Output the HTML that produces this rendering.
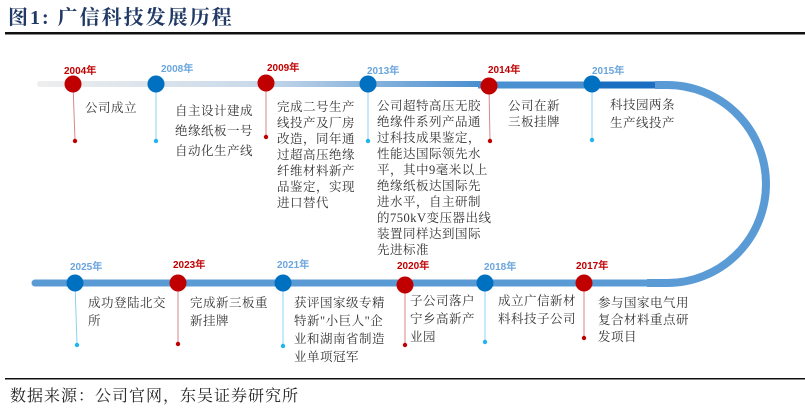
<!DOCTYPE html>
<html><head><meta charset="utf-8"><style>
html,body{margin:0;padding:0;background:#fff;}
body{width:805px;height:412px;overflow:hidden;position:relative;font-family:"Liberation Serif","Noto Serif CJK SC",serif;}
svg{position:absolute;left:0;top:0;}
</style></head><body>
<svg width="805" height="412" viewBox="0 0 805 412" xmlns="http://www.w3.org/2000/svg">
<defs>
<linearGradient id="g1" gradientUnits="userSpaceOnUse" x1="40" y1="0" x2="480" y2="0">
<stop offset="0" stop-color="#eeeeee"/><stop offset="0.5" stop-color="#c9d9ea"/><stop offset="1" stop-color="#4a8fd0"/>
</linearGradient>
</defs>
<text x="8" y="24" font-size="20" font-weight="bold" fill="#1f3864" letter-spacing="2" font-family="'Liberation Serif','Noto Serif CJK SC',serif">图1:  广信科技发展历程</text>
<rect x="5" y="32" width="800" height="2.5" fill="#111"/>
<!-- top track -->
<line x1="40" y1="84" x2="480" y2="84" stroke="url(#g1)" stroke-width="6" stroke-linecap="round"/>
<line x1="478" y1="85" x2="660" y2="85" stroke="#4a8fd0" stroke-width="7"/>
<line x1="590" y1="85" x2="660" y2="85" stroke="#1c6fc0" stroke-width="7"/>
<path d="M655 85 L667 85 A99 99 0 0 1 667 283 L647 283" fill="none" stroke="#5b9bd5" stroke-width="8"/>
<line x1="35" y1="283" x2="650" y2="283" stroke="#5b9bd5" stroke-width="7" stroke-linecap="round"/>
<g font-family="'Liberation Sans',sans-serif" font-size="10" font-weight="bold">
<line x1="73" y1="84" x2="75" y2="141" stroke="#d9878a" stroke-width="1"/><circle cx="75" cy="141" r="2.2" fill="#c00000"/>
<circle cx="73" cy="84" r="8.5" fill="#c00000"/><text x="64" y="74" fill="#c00000">2004年</text>
<line x1="156" y1="84" x2="156" y2="141" stroke="#8fd0f0" stroke-width="1"/><circle cx="156" cy="141" r="2.2" fill="#1fb4ee"/>
<circle cx="156" cy="84" r="8.5" fill="#0070c0"/><text x="161" y="72" fill="#6aa5dc">2008年</text>
<line x1="266" y1="83" x2="266" y2="137" stroke="#d9878a" stroke-width="1"/><circle cx="266" cy="137" r="2.2" fill="#c00000"/>
<circle cx="266" cy="83" r="8.5" fill="#c00000"/><text x="267" y="71" fill="#c00000">2009年</text>
<line x1="368" y1="84" x2="368" y2="141" stroke="#8fd0f0" stroke-width="1"/><circle cx="368" cy="141" r="2.2" fill="#1fb4ee"/>
<circle cx="368" cy="84" r="8.5" fill="#0070c0"/><text x="367" y="74" fill="#6aa5dc">2013年</text>
<line x1="489" y1="86" x2="490" y2="141" stroke="#d9878a" stroke-width="1"/><circle cx="490" cy="141" r="2.2" fill="#c00000"/>
<circle cx="489" cy="86" r="8.5" fill="#c00000"/><text x="488" y="73" fill="#c00000">2014年</text>
<line x1="592" y1="84" x2="592" y2="140" stroke="#8fd0f0" stroke-width="1"/><circle cx="592" cy="140" r="2.2" fill="#1fb4ee"/>
<circle cx="592" cy="84" r="8.5" fill="#0070c0"/><text x="592" y="74" fill="#6aa5dc">2015年</text>
<line x1="75" y1="283" x2="77" y2="345" stroke="#8fd0f0" stroke-width="1"/><circle cx="77" cy="345" r="2.2" fill="#1fb4ee"/>
<circle cx="75" cy="283" r="8.5" fill="#0070c0"/><text x="70" y="270" fill="#6aa5dc">2025年</text>
<line x1="178" y1="283" x2="178" y2="344" stroke="#d9878a" stroke-width="1"/><circle cx="178" cy="344" r="2.2" fill="#c00000"/>
<circle cx="178" cy="283" r="8.5" fill="#c00000"/><text x="173" y="268" fill="#c00000">2023年</text>
<line x1="283" y1="283" x2="283" y2="346" stroke="#8fd0f0" stroke-width="1"/><circle cx="283" cy="346" r="2.2" fill="#1fb4ee"/>
<circle cx="283" cy="283" r="8.5" fill="#0070c0"/><text x="277" y="268" fill="#6aa5dc">2021年</text>
<line x1="405" y1="285" x2="405" y2="345" stroke="#d9878a" stroke-width="1"/><circle cx="405" cy="345" r="2.2" fill="#c00000"/>
<circle cx="405" cy="285" r="8.5" fill="#c00000"/><text x="397" y="269" fill="#c00000">2020年</text>
<line x1="485" y1="283" x2="485" y2="342" stroke="#8fd0f0" stroke-width="1"/><circle cx="485" cy="342" r="2.2" fill="#1fb4ee"/>
<circle cx="485" cy="283" r="8.5" fill="#0070c0"/><text x="484" y="270" fill="#6aa5dc">2018年</text>
<line x1="584" y1="283" x2="584" y2="338" stroke="#d9878a" stroke-width="1"/><circle cx="584" cy="338" r="2.2" fill="#c00000"/>
<circle cx="584" cy="283" r="8.5" fill="#c00000"/><text x="576" y="269" fill="#c00000">2017年</text>
</g>
<g font-size="12.5" fill="#333" font-family="'Liberation Serif','Noto Serif CJK SC',serif" letter-spacing="0.5">
<text x="85" y="112">公司成立</text>
<text x="175" y="115">自主设计建成</text><text x="175" y="135">绝缘纸板一号</text><text x="175" y="155">自动化生产线</text>
<text x="277" y="111">完成二号生产</text><text x="277" y="127">线投产及厂房</text><text x="277" y="143">改造，同年通</text><text x="277" y="159">过超高压绝缘</text><text x="277" y="175">纤维材料新产</text><text x="277" y="191">品鉴定，实现</text><text x="277" y="207">进口替代</text>
<text x="377" y="110">公司超特高压无胶</text><text x="377" y="126">绝缘件系列产品通</text><text x="377" y="142">过科技成果鉴定，</text><text x="377" y="158">性能达国际领先水</text><text x="377" y="174">平，其中9毫米以上</text><text x="377" y="190">绝缘纸板达国际先</text><text x="377" y="206">进水平，自主研制</text><text x="377" y="222">的750kV变压器出线</text><text x="377" y="238">装置同样达到国际</text><text x="377" y="254">先进标准</text>
<text x="508" y="110">公司在新</text><text x="508" y="126">三板挂牌</text>
<text x="610" y="109">科技园两条</text><text x="610" y="127">生产线投产</text>
<text x="88" y="307">成功登陆北交</text><text x="88" y="325">所</text>
<text x="190" y="307">完成新三板重</text><text x="190" y="325">新挂牌</text>
<text x="294" y="307">获评国家级专精</text><text x="294" y="325">特新"小巨人"企</text><text x="294" y="343">业和湖南省制造</text><text x="294" y="361">业单项冠军</text>
<text x="410" y="305">子公司落户</text><text x="410" y="323">宁乡高新产</text><text x="410" y="341">业园</text>
<text x="498" y="305">成立广信新材</text><text x="498" y="323">料科技子公司</text>
<text x="598" y="307">参与国家电气用</text><text x="598" y="324">复合材料重点研</text><text x="598" y="341">发项目</text>
</g>
<rect x="5" y="378" width="800" height="1.5" fill="#111"/>
<text x="10" y="401" font-size="16" fill="#222" letter-spacing="1">数据来源：公司官网，东吴证券研究所</text>
</svg>
</body></html>
